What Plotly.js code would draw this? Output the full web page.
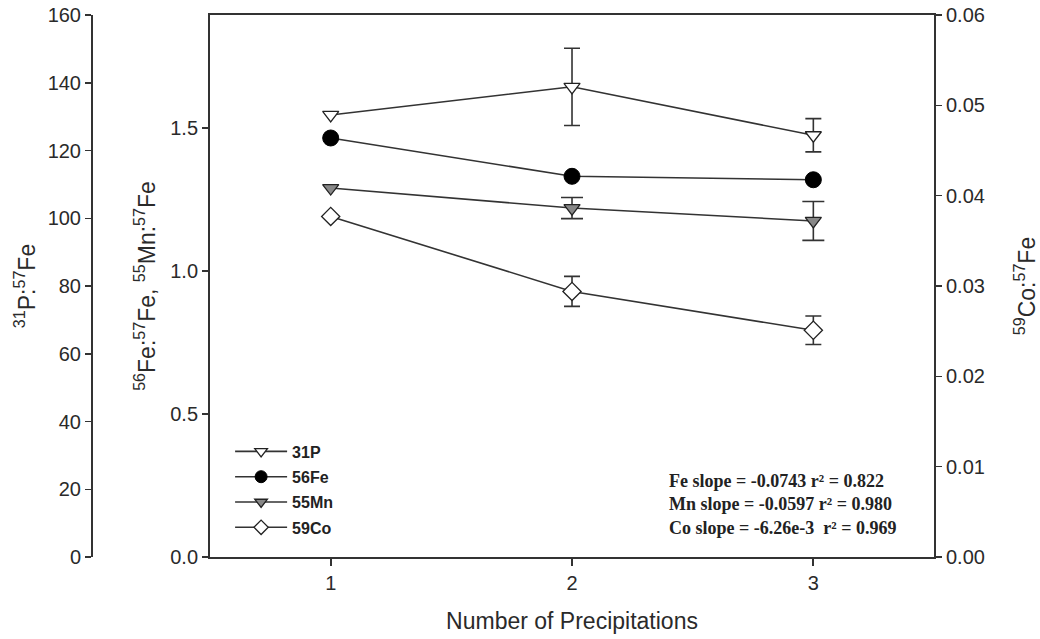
<!DOCTYPE html>
<html><head><meta charset="utf-8">
<script src="https://cdn.plot.ly/plotly-3.0.1.min.js"></script>
<style>body{margin:0;background:#fff}#chart{width:1040px;height:639px}</style>
</head><body><div id="chart"></div>
<script>
const precipitations = [1, 2, 3];
const p31 = [130.5, 138.8, 124.5];
const p31Err = [NaN, 11.4, 4.9];
const fe56 = [1.465, 1.331, 1.319];
const mn55 = [1.290, 1.220, 1.175];
const mn55Err = [NaN, 0.037, 0.068];
const co59 = [0.0377, 0.0294, 0.0251];
const co59Err = [NaN, 0.00166, 0.00158];
const legendNames = ["31P", "56Fe", "55Mn", "59Co"];
const xTicks = [1, 2, 3];
const slopeLines = [
  "Fe slope = -0.0743 r\u00b2 = 0.822",
  "Mn slope = -0.0597 r\u00b2 = 0.980",
  "Co slope = -6.26e-3  r\u00b2 = 0.969"
];

const LC = '#333';
const lineStyle = {color: LC, width: 1.6};
const markers = [
  {symbol: 'triangle-down', size: 14, color: '#fff', line: {color: '#222', width: 1.3}},
  {symbol: 'circle', size: 16, color: '#000', line: {color: '#000', width: 1}},
  {symbol: 'triangle-down', size: 14, color: '#888', line: {color: '#222', width: 1.3}},
  {symbol: 'diamond', size: 14, color: '#fff', line: {color: '#222', width: 1.3}}
];
const traces = [
  {x: precipitations, y: p31, name: legendNames[0], yaxis: 'y2', mode: 'lines+markers',
   line: lineStyle, marker: markers[0], showlegend: false,
   error_y: {type: 'data', array: p31Err, visible: true, color: LC, thickness: 1.6, width: 8}},
  {x: precipitations, y: fe56, name: legendNames[1], yaxis: 'y', mode: 'lines+markers',
   line: lineStyle, marker: markers[1], showlegend: false},
  {x: precipitations, y: mn55, name: legendNames[2], yaxis: 'y', mode: 'lines+markers',
   line: lineStyle, marker: markers[2], showlegend: false,
   error_y: {type: 'data', array: mn55Err, visible: true, color: LC, thickness: 1.6, width: 11}},
  {x: precipitations, y: co59, name: legendNames[3], yaxis: 'y3', mode: 'lines+markers',
   line: lineStyle, marker: markers[3], showlegend: false,
   error_y: {type: 'data', array: co59Err, visible: true, color: LC, thickness: 1.6, width: 8}}
];
// legend-only entries (smaller legend symbols, as in the reference)
legendNames.forEach((n, i) => {
  const m = Object.assign({}, markers[i], {size: i === 1 ? 12 : 11});
  traces.push({x: [null], y: [null], name: n, legendgroup: 'g' + i, mode: 'lines+markers',
    line: lineStyle, marker: m, showlegend: true, hoverinfo: 'skip'});
});

const tickFont = {family: 'Liberation Sans, Arial, sans-serif', size: 20, color: '#2a2a2a'};
const titleFont = {family: 'Liberation Sans, Arial, sans-serif', size: 23, color: '#2a2a2a'};
const baseY = {showgrid: false, zeroline: false, showline: true, linecolor: LC, ticks: 'outside',
  ticklen: 6, tickcolor: LC, tickwidth: 1.5, tickfont: tickFont};

const layout = {
  width: 1040, height: 639,
  margin: {l: 91, r: 106, t: 15, b: 82},
  paper_bgcolor: '#fff', plot_bgcolor: '#fff',
  showlegend: true,
  legend: {x: 0.165, y: 0.226, xanchor: 'left', yanchor: 'top', bgcolor: 'rgba(0,0,0,0)',
    font: {family: 'Liberation Sans, Arial, sans-serif', size: 16, color: '#222', weight: 'bold'},
    itemwidth: 52, tracegroupgap: 1.5},
  xaxis: {domain: [0.1412, 1], range: [0.5, 3.5], tickvals: xTicks, showgrid: false, zeroline: false,
    showline: true, mirror: true, linecolor: LC, linewidth: 2, ticks: 'outside', ticklen: 7,
    tickcolor: LC, tickwidth: 2, tickfont: tickFont,
    title: {text: 'Number of Precipitations', font: titleFont, standoff: 20}},
  yaxis: Object.assign({}, baseY, {range: [0, 1.895], dtick: 0.5, tick0: 0, tickformat: '.1f',
    linewidth: 2, anchor: 'x', side: 'left',
    title: {text: '<sup>56</sup>Fe:<sup>57</sup>Fe, <sup>55</sup>Mn:<sup>57</sup>Fe', font: titleFont, standoff: 8}}),
  yaxis2: Object.assign({}, baseY, {range: [0, 160], dtick: 20, tick0: 0, overlaying: 'y',
    anchor: 'free', position: 0, side: 'left', linewidth: 1.5,
    title: {text: '<sup>31</sup>P:<sup>57</sup>Fe', font: titleFont, standoff: 4}}),
  yaxis3: Object.assign({}, baseY, {range: [0, 0.06], dtick: 0.01, tick0: 0, tickformat: '.2f',
    overlaying: 'y', anchor: 'x', side: 'right', linewidth: 2,
    title: {text: '<sup>59</sup>Co:<sup>57</sup>Fe', font: titleFont, standoff: 36}}),
  annotations: [{
    text: slopeLines.join('<br>'), xref: 'paper', yref: 'paper', x: 0.6833, y: 0.0975,
    xanchor: 'left', yanchor: 'middle', align: 'left', showarrow: false,
    font: {family: 'Liberation Serif, Times New Roman, serif', size: 18, color: '#222', weight: 'bold'}
  }]
};

Plotly.newPlot('chart', traces, layout, {displayModeBar: false, staticPlot: true});
</script>
</body></html>
